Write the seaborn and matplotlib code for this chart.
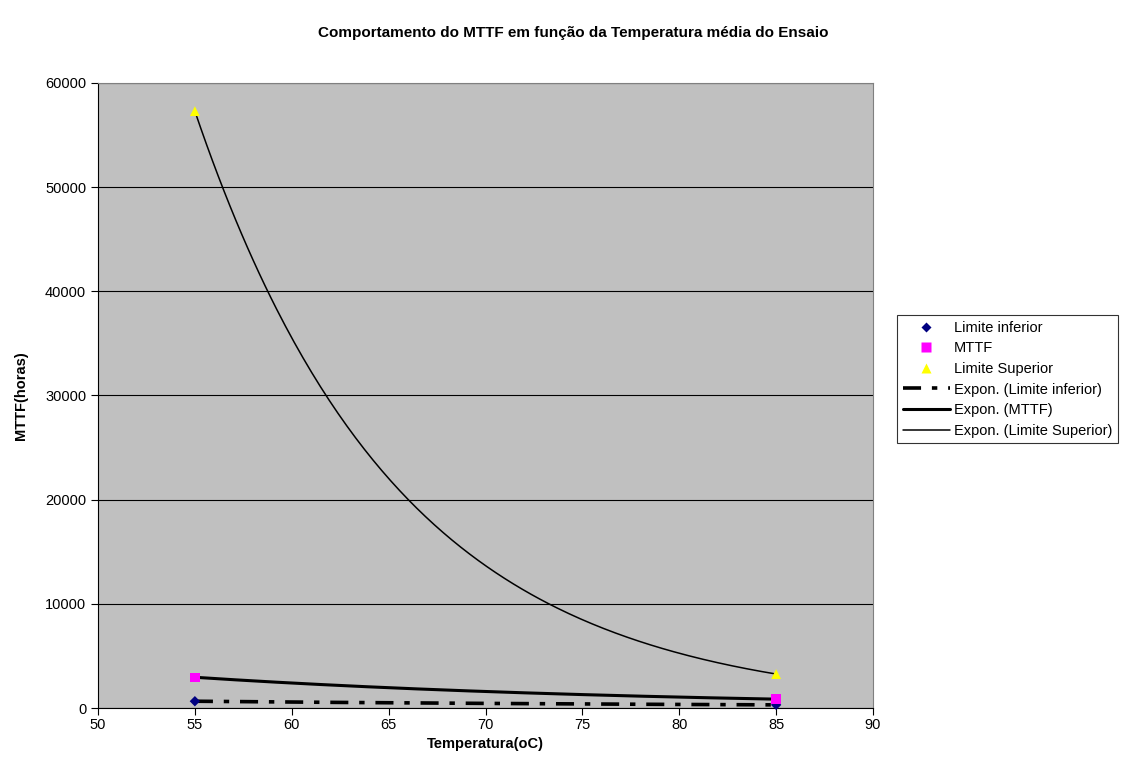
import numpy as np
import pandas as pd
import matplotlib
matplotlib.use("Agg")
import matplotlib.pyplot as plt
import seaborn as sns

temperatura = [55, 85]
limite_inferior = [650, 300]
mttf = [2950, 850]
limite_superior = [57300, 3260]

sns.set_theme(style="white")
plt.rcParams['font.family'] = ['Liberation Sans', 'DejaVu Sans']
plt.rcParams['text.color'] = 'black'
plt.rcParams['axes.labelcolor'] = 'black'
plt.rcParams['xtick.color'] = 'black'
plt.rcParams['ytick.color'] = 'black'

df = pd.DataFrame({
    "Temperatura": temperatura * 3,
    "valor": limite_inferior + mttf + limite_superior,
    "serie": ["Limite inferior"] * 2 + ["MTTF"] * 2 + ["Limite Superior"] * 2,
})


def expon(xs, ys, xx):
    # trendline do tipo exponencial, como no Excel
    b, ln_a = np.polyfit(xs, np.log(ys), 1)
    return np.exp(ln_a) * np.exp(b * xx)


xx = np.linspace(55, 85, 200)
trend = pd.DataFrame({
    "x": np.concatenate([xx, xx, xx]),
    "y": np.concatenate([expon(temperatura, limite_inferior, xx),
                         expon(temperatura, mttf, xx),
                         expon(temperatura, limite_superior, xx)]),
    "serie": ["Expon. (Limite inferior)"] * len(xx) + ["Expon. (MTTF)"] * len(xx)
             + ["Expon. (Limite Superior)"] * len(xx),
})

fig = plt.figure(figsize=(11.47, 7.73), dpi=100)
ax = fig.add_axes([98 / 1147, 1 - 708 / 773, 775 / 1147, 625 / 773])
ax.set_facecolor("#C0C0C0")

styles = {
    "Expon. (Limite inferior)": dict(lw=2.6, ls=(0, (5, 3, 1.5, 3))),
    "Expon. (MTTF)": dict(lw=2.2, ls="-"),
    "Expon. (Limite Superior)": dict(lw=1.1, ls="-"),
}
for nome, st in styles.items():
    sub = trend[trend["serie"] == nome]
    sns.lineplot(data=sub, x="x", y="y", color="black", linewidth=st["lw"],
                 linestyle=st["ls"], ax=ax, label=nome, zorder=3)

sns.scatterplot(data=df, x="Temperatura", y="valor", hue="serie", style="serie", size="serie",
                palette={"Limite inferior": "#000080", "MTTF": "#FF00FF", "Limite Superior": "#FFFF00"},
                markers={"Limite inferior": "D", "MTTF": "s", "Limite Superior": "^"},
                sizes={"Limite inferior": 28, "MTTF": 45, "Limite Superior": 50},
                edgecolor="none", ax=ax, zorder=4, clip_on=False)

ax.set_xlim(50, 90)
ax.set_ylim(0, 60000)
ax.set_xticks(range(50, 91, 5))
ax.set_yticks(range(0, 60001, 10000))
ax.yaxis.grid(True, color="black", linewidth=0.8)
ax.set_axisbelow(True)
ax.tick_params(axis="both", direction="out", length=5, width=0.8, color="black",
               labelsize=10.5, bottom=True, left=True)
ax.tick_params(axis="x", pad=2)
for side in ["top", "right"]:
    ax.spines[side].set_color("#808080")
    ax.spines[side].set_linewidth(0.8)
for side in ["left", "bottom"]:
    ax.spines[side].set_color("black")
    ax.spines[side].set_linewidth(0.8)

ax.set_xlabel("Temperatura(oC)", fontsize=10.5, fontweight="bold", labelpad=4)
ax.set_ylabel("MTTF(horas)", fontsize=10.5, fontweight="bold", labelpad=12)
fig.suptitle("Comportamento do MTTF em função da Temperatura média do Ensaio",
             fontsize=11, fontweight="bold", x=0.5, y=1 - 33 / 773, va="center")

handles, labels = ax.get_legend_handles_labels()
ordem = ["Limite inferior", "MTTF", "Limite Superior",
         "Expon. (Limite inferior)", "Expon. (MTTF)", "Expon. (Limite Superior)"]
hmap = dict(zip(labels, handles))
leg = ax.legend([hmap[k] for k in ordem], ordem, loc="upper left",
                bbox_to_anchor=(897 / 1147, 1 - 315 / 773), bbox_transform=fig.transFigure,
                frameon=True, fancybox=False, edgecolor="black", fontsize=10.5,
                handlelength=3.2, handletextpad=0.3, borderaxespad=0,
                labelspacing=0.45, borderpad=0.4)
leg.get_frame().set_linewidth(0.8)

fig.savefig("out.png", dpi=100)
